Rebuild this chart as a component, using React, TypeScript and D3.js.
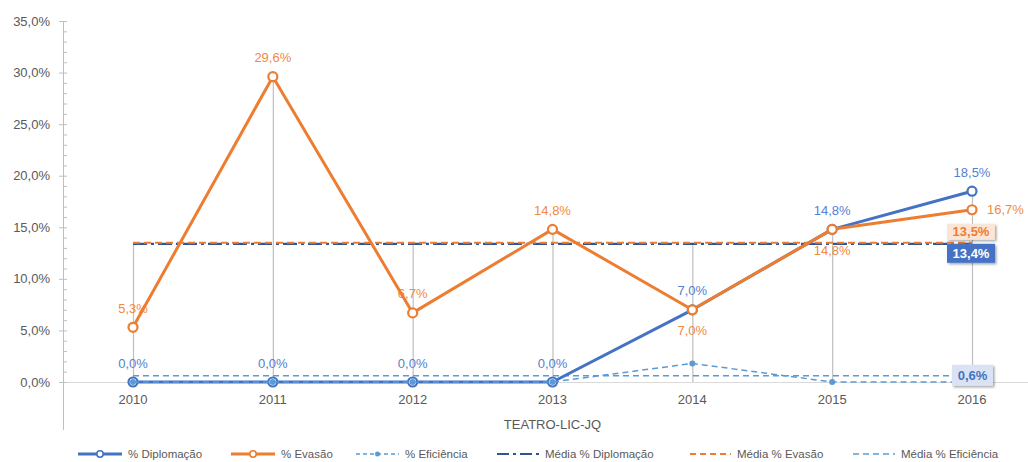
import React from 'react';
import * as d3 from 'd3';

const years = ['2010', '2011', '2012', '2013', '2014', '2015', '2016'];
const diplomacao = [0, 0, 0, 0, 7.0, 14.8, 18.5];
const evasao = [5.3, 29.6, 6.7, 14.8, 7.0, 14.8, 16.7];
const eficiencia = [0, 0, 0, 0, 1.8, 0, 0];
const mediaDiplomacao = 13.4;
const mediaEvasao = 13.5;
const mediaEficiencia = 0.6;
const yTicks = [0, 5, 10, 15, 20, 25, 30, 35];
const evasaoLabelSide = ['above', 'above', 'above', 'above', 'below', 'below', 'right'];
const axisTitle = 'TEATRO-LIC-JQ';

const BLUE = '#4472C4';
const ORANGE = '#ED7D31';
const LIGHTBLUE = '#5B9BD5';
const DARKBLUE = '#2F5597';
const BLUE_LBL = '#5580D0';
const ORANGE_LBL = '#F08A45';
const GRAY = '#595959';
const FONT = '"Liberation Sans", Arial, sans-serif';

const fmt = (v: number) => v.toFixed(1).replace('.', ',') + '%';

export default function App() {
  const W = 1028, H = 462;
  const x = d3.scalePoint<string>().domain(years).range([133, 972]);
  const y = d3.scaleLinear().domain([0, 35]).range([382, 21]);
  const minor = d3.range(0, 35, 1).filter((v) => v % 5 !== 0);
  const line = d3.line<number>().x((_, i) => x(years[i])!).y((d) => y(d));
  const x0 = x(years[0])!, x1 = x(years[years.length - 1])!;

  const legend = [
    { lx: 78, tx: 128, label: '% Diplomação', color: BLUE, w: 3, dash: '', marker: 'circle' },
    { lx: 231, tx: 281, label: '% Evasão', color: ORANGE, w: 3, dash: '', marker: 'circleO' },
    { lx: 356, tx: 405, label: '% Eficiência', color: LIGHTBLUE, w: 1.5, dash: '4,3', marker: 'dot' },
    { lx: 497, tx: 545, label: 'Média % Diplomação', color: DARKBLUE, w: 2, dash: '12,4,3,4', marker: '' },
    { lx: 690, tx: 737, label: 'Média % Evasão', color: ORANGE, w: 2, dash: '6,4', marker: '' },
    { lx: 853, tx: 901, label: 'Média % Eficiência', color: LIGHTBLUE, w: 1.5, dash: '6,4', marker: '' },
  ];

  return (
    <div style={{ position: 'absolute', left: 0, top: 0 }}>
      <svg width={W} height={H} style={{ display: 'block', background: '#fff' }} fontFamily={FONT}>
        <defs>
          <filter id="sh" x="-20%" y="-30%" width="150%" height="170%">
            <feDropShadow dx="1.5" dy="1.5" stdDeviation="1" floodColor="#000" floodOpacity="0.35" />
          </filter>
        </defs>
        {/* axes */}
        <line x1={63.5} x2={63.5} y1={21} y2={430} stroke="#BFBFBF" />
        <line x1={59} x2={W} y1={y(0) + 0.5} y2={y(0) + 0.5} stroke="#D9D9D9" />
        {yTicks.map((t) => (
          <g key={t}>
            <line x1={59} x2={67} y1={y(t) + 0.5} y2={y(t) + 0.5} stroke="#BFBFBF" />
            <text x={50} y={y(t)} dy="0.35em" textAnchor="end" fontSize={13} fill={GRAY}>{fmt(t)}</text>
          </g>
        ))}
        {minor.map((t) => (
          <line key={t} x1={63.5} x2={67} y1={y(t) + 0.5} y2={y(t) + 0.5} stroke="#BFBFBF" />
        ))}
        {years.map((yr) => (
          <text key={yr} x={x(yr)} y={399} dy="0.35em" textAnchor="middle" fontSize={13} fill={GRAY}>{yr}</text>
        ))}
        <text x={(x0 + x1) / 2} y={424} dy="0.35em" textAnchor="middle" fontSize={13} fill={GRAY}>{axisTitle}</text>

        {/* drop lines */}
        {years.map((yr, i) => {
          const top = Math.max(diplomacao[i], evasao[i], eficiencia[i], mediaDiplomacao, mediaEvasao, mediaEficiencia);
          return <line key={yr} x1={x(yr)! + 0.5} x2={x(yr)! + 0.5} y1={y(top)} y2={y(0)} stroke="#BFBFBF" strokeWidth={1.2} />;
        })}

        {/* data labels */}
        {diplomacao.map((v, i) => (
          <text key={'dl' + i} x={x(years[i])} y={y(v) - 19} dy="0.35em" textAnchor="middle" fontSize={13} fill={BLUE_LBL}>{fmt(v)}</text>
        ))}
        {evasao.map((v, i) => {
          const s = evasaoLabelSide[i];
          const px = x(years[i])!;
          if (s === 'right') return <text key={'el' + i} x={px + 15} y={y(v)} dy="0.35em" textAnchor="start" fontSize={13} fill={ORANGE_LBL}>{fmt(v)}</text>;
          return <text key={'el' + i} x={px} y={y(v) + (s === 'above' ? -19 : 21)} dy="0.35em" textAnchor="middle" fontSize={13} fill={ORANGE_LBL}>{fmt(v)}</text>;
        })}

        {/* mean lines */}
        <line x1={x0} x2={x1} y1={y(mediaEficiencia)} y2={y(mediaEficiencia)} stroke={LIGHTBLUE} strokeWidth={1.5} strokeDasharray="6,4" />
        <line x1={x0} x2={x1} y1={y(mediaDiplomacao)} y2={y(mediaDiplomacao)} stroke={DARKBLUE} strokeWidth={2.2} strokeDasharray="14,4,3,4" />
        <line x1={x0} x2={x1} y1={y(mediaEvasao)} y2={y(mediaEvasao)} stroke={ORANGE} strokeWidth={1.8} strokeDasharray="7,4" />

        {/* series */}
        <path d={line(diplomacao)!} fill="none" stroke={BLUE} strokeWidth={3} strokeLinejoin="round" />
        {diplomacao.map((v, i) => (
          <circle key={'dm' + i} cx={x(years[i])} cy={y(v)} r={4.5} fill="#fff" stroke={BLUE} strokeWidth={2.2} />
        ))}
        <path d={line(evasao)!} fill="none" stroke={ORANGE} strokeWidth={3} strokeLinejoin="round" />
        {evasao.map((v, i) => (
          <circle key={'em' + i} cx={x(years[i])} cy={y(v)} r={4.5} fill="#fff" stroke={ORANGE} strokeWidth={2.2} />
        ))}
        <path d={line(eficiencia)!} fill="none" stroke={LIGHTBLUE} strokeWidth={1.5} strokeDasharray="6,4" />
        {eficiencia.map((v, i) => (
          <circle key={'fm' + i} cx={x(years[i])} cy={y(v)} r={3} fill={LIGHTBLUE} />
        ))}

        {/* mean value boxes */}
        <g filter="url(#sh)">
          <rect x={947} y={y(mediaEvasao) - 19} width={48} height={16} fill="#FBE5D6" />
          <rect x={947} y={y(mediaDiplomacao)} width={48} height={19} fill={BLUE} />
          <rect x={952} y={y(mediaEficiencia) - 11} width={41} height={21} fill="#DAE3F3" />
        </g>
        <text x={971} y={y(mediaEvasao) - 11} dy="0.35em" textAnchor="middle" fontSize={13} fontWeight="bold" fill={ORANGE}>{fmt(mediaEvasao)}</text>
        <text x={971} y={y(mediaDiplomacao) + 9.5} dy="0.35em" textAnchor="middle" fontSize={13} fontWeight="bold" fill="#fff">{fmt(mediaDiplomacao)}</text>
        <text x={972.5} y={y(mediaEficiencia) - 0.5} dy="0.35em" textAnchor="middle" fontSize={13} fontWeight="bold" fill={BLUE}>{fmt(mediaEficiencia)}</text>

        {/* legend */}
        {legend.map((l) => {
          const ly = 454;
          const len = l.tx - l.lx - 6;
          return (
            <g key={l.label}>
              <line x1={l.lx} x2={l.lx + len} y1={ly} y2={ly} stroke={l.color} strokeWidth={l.w} strokeDasharray={l.dash || undefined} />
              {l.marker === 'circle' || l.marker === 'circleO' ? (
                <circle cx={l.lx + len / 2} cy={ly} r={3.2} fill="#fff" stroke={l.color} strokeWidth={1.6} />
              ) : null}
              {l.marker === 'dot' ? <circle cx={l.lx + len / 2} cy={ly} r={2.5} fill={l.color} /> : null}
              <text x={l.tx} y={ly} dy="0.35em" fontSize={11.5} fill={GRAY}>{l.label}</text>
            </g>
          );
        })}
      </svg>
    </div>
  );
}
